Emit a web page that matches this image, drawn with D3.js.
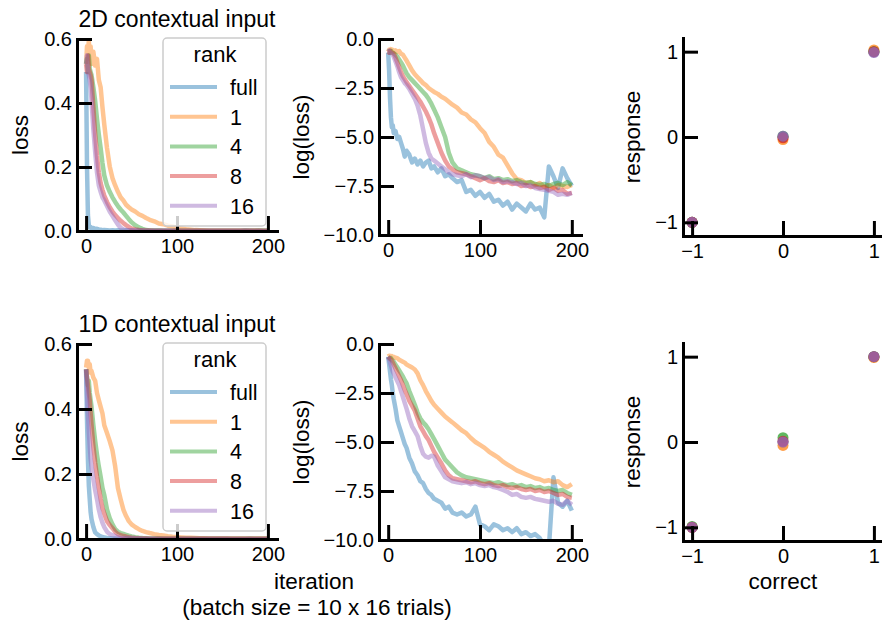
<!DOCTYPE html>
<html>
<head>
<meta charset="utf-8">
<script src="https://cdn.jsdelivr.net/npm/d3@7"></script>
<style>
  body { margin: 0; background: #fff; }
  text { font-family: "Liberation Sans", Arial, sans-serif; fill: #000; }
</style>
</head>
<body>
<div id="chart"></div>
<script>
const width = 882, height = 621;

const ranks = ["full", "1", "4", "8", "16"];
const colors = ["#1f77b4", "#ff7f0e", "#2ca02c", "#d62728", "#9467bd"];

const iters = [0,1,2,3,4,5,6,8,10,12,14,16,18,20,23,26,29,32,35,38,41,44,47,50,54,58,62,66,70,
  75,80,85,90,95,100,105,110,115,120,125,130,135,140,145,150,155,160,165,170,175,180,185,190,195,200];

// 2D contextual input
const full2D = [-0.70,-1.6,-3.0,-4.0,-4.5,-4.4,-4.8, -4.7,-5.1,-5.0,-5.3,-5.6,-6.0,-5.7,
  -5.9,-6.3,-6.1,-6.4,-6.2,-6.5,-6.3,-6.2,-6.6,-6.5, -6.8,-6.6,-7.0,-6.9,-7.1,
  -7.3,-7.2,-7.8,-7.7,-8.0,-7.8,-8.1,-7.9,-8.3,-8.2,-8.5,-8.3,-8.7,-8.4,-8.6,-8.8,-8.4,-8.7,-8.6,-9.1,-6.5,-7.0,-7.6,-6.6,-7.1,-7.5];
const rank1_2D = [-0.65,-0.55,-0.6,-0.52,-0.62,-0.55,-0.65, -0.58,-0.66,-0.62,-0.75,-0.8,-0.95,-1.1,
  -1.35,-1.6,-1.8,-1.95,-2.1,-2.25,-2.35,-2.5,-2.6,-2.7, -2.8,-2.95,-3.05,-3.2,-3.35,
  -3.5,-3.75,-3.85,-4.1,-4.25,-4.55,-4.8,-5.25,-5.5,-5.9,-6.05,-6.45,-6.85,-7.15,-7.2,-7.35,-7.3,-7.45,-7.35,-7.55,-7.45,-7.6,-7.45,-7.5,-7.55,-7.45];
const rank4_2D = [-0.65,-0.62,-0.7,-0.6,-0.68,-0.7,-0.72, -0.8,-0.9,-1.05,-1.2,-1.35,-1.55,-1.75,
  -1.95,-2.1,-2.25,-2.4,-2.55,-2.7,-2.85,-3.05,-3.3,-3.6, -4.0,-4.5,-5.0,-5.8,-6.3,
  -6.6,-6.7,-6.8,-6.9,-6.95,-7.0,-7.1,-7.0,-7.15,-7.1,-7.2,-7.15,-7.25,-7.2,-7.3,-7.35,-7.3,-7.4,-7.45,-7.4,-7.5,-7.4,-7.35,-7.45,-7.3,-7.45];
const rank8_2D = [-0.65,-0.7,-0.6,-0.68,-0.7,-0.72,-0.75, -0.95,-1.2,-1.45,-1.7,-1.9,-2.05,-2.2,
  -2.4,-2.6,-2.8,-3.0,-3.2,-3.45,-3.7,-4.0,-4.35,-4.8, -5.3,-5.8,-6.2,-6.5,-6.65,
  -6.8,-6.85,-6.9,-7.0,-7.1,-7.2,-7.1,-7.25,-7.3,-7.2,-7.35,-7.3,-7.4,-7.35,-7.5,-7.45,-7.55,-7.5,-7.6,-7.55,-7.7,-7.6,-7.75,-7.7,-7.9,-7.85];
const rank16_2D = [-0.65,-0.6,-0.7,-0.72,-0.75,-0.8,-0.9, -1.15,-1.4,-1.7,-1.95,-2.1,-2.25,-2.35,
  -2.55,-2.8,-3.05,-3.4,-3.9,-4.6,-5.3,-5.8,-6.1,-6.2, -6.35,-6.5,-6.65,-6.8,-6.9,
  -6.95,-7.0,-6.9,-7.05,-6.95,-7.0,-7.1,-7.05,-7.2,-7.15,-7.3,-7.25,-7.3,-7.4,-7.35,-7.5,-7.45,-7.6,-7.65,-7.7,-7.75,-7.8,-7.95,-7.9,-7.95,-7.85];

// 1D contextual input
const full1D = [-0.65,-1.0,-1.4,-1.8,-2.1,-2.5,-2.8, -3.3,-3.9,-4.2,-4.5,-4.8,-5.1,-5.3,
  -5.8,-6.1,-6.5,-6.7,-7.0,-7.1,-7.4,-7.6,-7.7,-7.9, -8.0,-8.1,-8.4,-8.3,-8.6,
  -8.7,-8.6,-8.8,-8.7,-8.3,-9.2,-9.3,-9.5,-9.2,-9.3,-9.5,-9.4,-9.6,-9.4,-9.7,-9.6,-9.8,-9.7,-9.9,-10.3,-10.4,-6.8,-8.1,-8.3,-8.0,-8.5];
const rank1_1D = [-0.64,-0.6,-0.6,-0.64,-0.62,-0.67,-0.66, -0.7,-0.72,-0.8,-0.85,-0.9,-0.95,-1.05,
  -1.12,-1.2,-1.3,-1.5,-1.85,-2.1,-2.4,-2.65,-2.9,-3.1, -3.3,-3.5,-3.7,-3.85,-4.0,
  -4.2,-4.4,-4.55,-4.8,-5.0,-5.15,-5.3,-5.5,-5.65,-5.8,-6.0,-6.15,-6.3,-6.45,-6.55,-6.65,-6.75,-6.85,-6.9,-7.0,-6.95,-7.05,-7.0,-7.2,-7.3,-7.15];
const rank4_1D = [-0.65,-0.7,-0.75,-0.72,-0.8,-0.85,-0.9, -1.05,-1.2,-1.35,-1.5,-1.65,-1.85,-2.0,
  -2.4,-2.75,-3.1,-3.5,-3.8,-4.0,-4.15,-4.35,-4.6,-4.85, -5.2,-5.55,-5.9,-6.1,-6.3,
  -6.55,-6.7,-6.8,-6.85,-6.9,-6.95,-7.0,-7.05,-7.1,-7.05,-7.15,-7.2,-7.15,-7.25,-7.2,-7.3,-7.25,-7.35,-7.3,-7.4,-7.35,-7.45,-7.5,-7.45,-7.6,-7.7];
const rank8_1D = [-0.65,-0.7,-0.75,-0.8,-0.85,-0.95,-1.05, -1.25,-1.45,-1.65,-1.85,-2.1,-2.35,-2.55,
  -2.9,-3.15,-3.4,-3.8,-4.2,-4.45,-4.7,-4.9,-5.2,-5.5, -5.8,-6.1,-6.45,-6.7,-6.85,
  -6.9,-6.95,-7.0,-7.05,-7.0,-7.1,-7.15,-7.1,-7.2,-7.25,-7.2,-7.3,-7.35,-7.3,-7.4,-7.45,-7.4,-7.5,-7.45,-7.55,-7.5,-7.6,-7.7,-7.65,-7.8,-7.85];
const rank16_1D = [-0.65,-0.8,-0.95,-1.1,-1.25,-1.4,-1.5, -1.7,-1.9,-2.1,-2.4,-2.7,-3.0,-3.3,
  -3.8,-4.2,-4.45,-4.7,-5.2,-5.6,-5.75,-5.8,-5.7,-5.75, -6.2,-6.5,-6.8,-6.9,-7.0,
  -7.05,-7.1,-7.05,-7.15,-7.1,-7.2,-7.25,-7.2,-7.3,-7.35,-7.45,-7.55,-7.7,-7.65,-7.8,-7.85,-7.8,-7.9,-7.95,-8.0,-8.05,-8.0,-8.15,-8.2,-8.0,-8.2];

// response vs correct, one array per rank
const correct = [-1, 0, 1];
const resp2D_full = [-1, 0, 1];
const resp2D_r1 = [-1, -0.03, 1.02];
const resp2D_r4 = [-1, 0.01, 1];
const resp2D_r8 = [-1, -0.01, 1];
const resp2D_r16 = [-1, 0.01, 0.99];
const resp1D_full = [-1, 0, 1];
const resp1D_r1 = [-1, -0.04, 0.99];
const resp1D_r4 = [-0.99, 0.05, 1];
const resp1D_r8 = [-1, 0.01, 1];
const resp1D_r16 = [-1, 0, 1];

const iterTicks = [0, 100, 200];
const lossTicks = [0, 0.2, 0.4, 0.6];
const logTicks = [0, -2.5, -5, -7.5, -10];
const respTicks = [-1, 0, 1];

const rows = [
  { title: "2D contextual input", curves: [full2D, rank1_2D, rank4_2D, rank8_2D, rank16_2D],
    resp: [resp2D_full, resp2D_r1, resp2D_r4, resp2D_r8, resp2D_r16],
    top: 39, bot1: 231, bot2: 235, top3: 38, bot3: 236 },
  { title: "1D contextual input", curves: [full1D, rank1_1D, rank4_1D, rank8_1D, rank16_1D],
    resp: [resp1D_full, resp1D_r1, resp1D_r4, resp1D_r8, resp1D_r16],
    top: 344, bot1: 539, bot2: 540, top3: 343, bot3: 541 }
];

const svg = d3.select("#chart").append("svg")
  .attr("width", width)
  .attr("height", height);

let clipId = 0;

function styleAxis(g, size) {
  g.attr("font-family", null).attr("font-size", null);
  g.selectAll("path.domain").attr("stroke", "#000").attr("stroke-width", 3).attr("stroke-linecap", "square");
  g.selectAll(".tick line").attr("stroke", "#000").attr("stroke-width", 3);
  g.selectAll(".tick text").style("font-size", size + "px").attr("fill", "#000");
}

function drawAxes(x, y, xTicks, yTicks, xFmt, yFmt) {
  const [x0] = x.range();
  const [y0] = y.range();
  const gx = svg.append("g")
    .attr("transform", `translate(0,${y0})`)
    .call(d3.axisBottom(x).tickValues(xTicks).tickFormat(xFmt)
      .tickSizeInner(-15).tickSizeOuter(0).tickPadding(8));
  styleAxis(gx, 20);
  const gy = svg.append("g")
    .attr("transform", `translate(${x0},0)`)
    .call(d3.axisLeft(y).tickValues(yTicks).tickFormat(yFmt)
      .tickSizeInner(-15).tickSizeOuter(0).tickPadding(5));
  styleAxis(gy, 20);
}

function clipFor(x, y) {
  const id = "clip" + (clipId++);
  const [xa, xb] = x.range();
  const [ya, yb] = y.range();
  svg.append("clipPath").attr("id", id).append("rect")
    .attr("x", xa).attr("y", yb).attr("width", xb - xa).attr("height", ya - yb);
  return "url(#" + id + ")";
}

function yLabel(txt, xPos, yCenter) {
  svg.append("text")
    .attr("transform", `translate(${xPos},${yCenter}) rotate(-90)`)
    .attr("text-anchor", "middle")
    .style("font-size", "22.5px")
    .text(txt);
}

rows.forEach(row => {
  // loss panel
  const x1 = d3.scaleLinear().domain([-10, 210]).range([77, 277]);
  const y1 = d3.scaleLinear().domain([0, 0.6]).range([row.bot1, row.top]);
  const line1 = d3.line().x((d, i) => x1(iters[i])).y(d => y1(Math.exp(d)));
  const c1 = clipFor(x1, y1);
  svg.append("g").attr("clip-path", c1)
    .selectAll("path").data(row.curves).join("path")
    .attr("d", line1)
    .attr("fill", "none")
    .attr("stroke", (d, i) => colors[i])
    .attr("stroke-opacity", 0.45)
    .attr("stroke-width", 4.5)
    .attr("stroke-linejoin", "round");
  drawAxes(x1, y1, iterTicks, lossTicks, d3.format("d"), d3.format(".1f"));
  yLabel("loss", 28, (row.top + row.bot1) / 2);
  svg.append("text")
    .attr("x", 177).attr("y", row.top - 12)
    .attr("text-anchor", "middle")
    .style("font-size", "23px")
    .text(row.title);

  // legend
  const lg = svg.append("g").attr("transform", `translate(163,${row.top - 1})`);
  lg.append("rect")
    .attr("width", 103).attr("height", 188).attr("rx", 4)
    .attr("fill", "#fff").attr("fill-opacity", 0.8)
    .attr("stroke", "#ccc").attr("stroke-width", 1.5);
  lg.append("text").attr("x", 52).attr("y", 24)
    .attr("text-anchor", "middle").style("font-size", "22px").text("rank");
  ranks.forEach((r, i) => {
    const yy = 49 + i * 29.7;
    lg.append("line")
      .attr("x1", 7).attr("x2", 54).attr("y1", yy).attr("y2", yy)
      .attr("stroke", colors[i]).attr("stroke-opacity", 0.45).attr("stroke-width", 4);
    lg.append("text").attr("x", 67).attr("y", yy + 8)
      .style("font-size", "21.5px").text(r);
  });

  // log(loss) panel
  const x2 = d3.scaleLinear().domain([-10, 210]).range([379, 581]);
  const y2 = d3.scaleLinear().domain([-10, 0]).range([row.bot2, row.top]);
  const line2 = d3.line().x((d, i) => x2(iters[i])).y(d => y2(d));
  const c2 = clipFor(x2, y2);
  svg.append("g").attr("clip-path", c2)
    .selectAll("path").data(row.curves).join("path")
    .attr("d", line2)
    .attr("fill", "none")
    .attr("stroke", (d, i) => colors[i])
    .attr("stroke-opacity", 0.45)
    .attr("stroke-width", 4.5)
    .attr("stroke-linejoin", "round");
  drawAxes(x2, y2, iterTicks, logTicks, d3.format("d"), d3.format(".1f"));
  yLabel("log(loss)", 309, (row.top + row.bot2) / 2);

  // response vs correct panel
  const x3 = d3.scaleLinear().domain([-1.1, 1.1]).range([683, 883]);
  const y3 = d3.scaleLinear().domain([-1.16, 1.16]).range([row.bot3, row.top3]);
  row.resp.forEach((resp, k) => {
    svg.append("g").selectAll("circle").data(resp).join("circle")
      .attr("cx", (d, i) => x3(correct[i]))
      .attr("cy", d => y3(d))
      .attr("r", 5.5)
      .attr("fill", colors[k])
      .attr("fill-opacity", 0.75);
  });
  drawAxes(x3, y3, respTicks, respTicks, d3.format("d"), d3.format("d"));
  yLabel("response", 640, (row.top3 + row.bot3) / 2);
});

// shared x labels
svg.append("text").attr("x", 314).attr("y", 589)
  .attr("text-anchor", "middle").style("font-size", "22.5px").text("iteration");
svg.append("text").attr("x", 317).attr("y", 615)
  .attr("text-anchor", "middle").style("font-size", "22.5px").text("(batch size = 10 x 16 trials)");
svg.append("text").attr("x", 783).attr("y", 589)
  .attr("text-anchor", "middle").style("font-size", "22.5px").text("correct");
</script>
</body>
</html>
